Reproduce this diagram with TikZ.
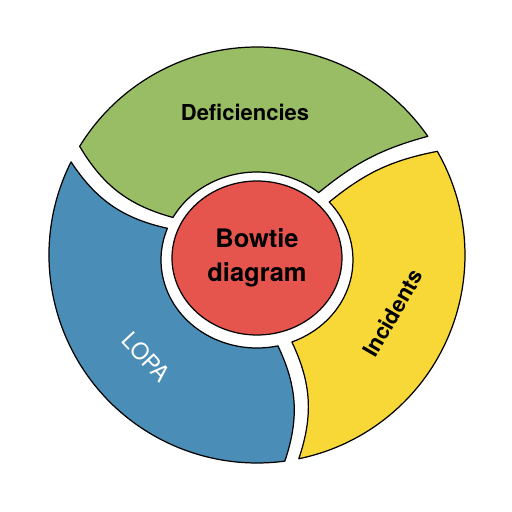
\documentclass[tikz,border=0pt]{standalone}
\usepackage{fontspec}
\setmainfont{TeX Gyre Heros}
\usetikzlibrary{calc,shapes.geometric}
\definecolor{segGreen}{HTML}{98BD64}
\definecolor{segYellow}{HTML}{F8D836}
\definecolor{segBlue}{HTML}{4A8DB7}
\definecolor{coreRed}{HTML}{E5554D}
\begin{document}
\begin{tikzpicture}[x=0.02cm,y=0.02cm,
  seg/.style={draw=black, line width=0.7pt, line join=round},
  lbl/.style={inner sep=0pt, font=\fontsize{12.5}{15}\selectfont\bfseries},
  core/.style={ellipse, draw=black, line width=0.7pt, fill=coreRed, minimum width=3.4cm, minimum height=3.08cm, inner sep=0pt, align=center, font=\fontsize{14.5}{19.5}\selectfont\bfseries}]
\useasboundingbox (0,0) rectangle (512,512);
\fill[white] (0,0) rectangle (512,512);
\coordinate (O) at (257,257);
\coordinate (R) at (257,252);
% green
\coordinate (gOR) at ($(O)+(34.8:208)$);
\coordinate (gOL) at ($(O)+(148.5:208)$);
\coordinate (gIL) at ($(R)+({96*cos(151.1)},{88*sin(151.1)})$);
\coordinate (gIR) at ($(R)+({96*cos(50)},{88*sin(50)})$);
% yellow
\coordinate (yOB) at ($(O)+(-78.4:208)$);
\coordinate (yOT) at ($(O)+(29.9:208)$);
\coordinate (yIT) at ($(R)+({96*cos(41.2)},{88*sin(41.2)})$);
\coordinate (yIB) at ($(R)+({96*cos(-68.7)},{88*sin(-68.7)})$);
% blue
\coordinate (bOT) at ($(O)+(153.4:208)$);
\coordinate (bOB) at ($(O)+(277.7:208)$);
\coordinate (bIB) at ($(R)+({96*cos(282.6)},{88*sin(282.6)})$);
\coordinate (bIT) at ($(R)+({96*cos(158.9)},{88*sin(158.9)})$);
\path[seg, fill=segGreen] (gOR) arc[start angle=34.8, end angle=148.5, radius=208]
  to[bend right=22] (gIL) arc[start angle=151.1, end angle=50, x radius=96, y radius=88]
  to[bend left=12] (gOR) -- cycle;
\path[seg, fill=segYellow] (yOB) arc[start angle=-78.4, end angle=29.9, radius=208]
  to[bend right=14] (yIT) arc[start angle=41.2, end angle=-68.7, x radius=96, y radius=88]
  to[bend left=22] (yOB) -- cycle;
\path[seg, fill=segBlue] (bOT) arc[start angle=153.4, end angle=277.7, radius=208]
  to[bend right=22] (bIB) arc[start angle=282.6, end angle=158.9, x radius=96, y radius=88]
  to[bend left=22] (bOT) -- cycle;
\node[core] (bowtie) at (257,254) {Bowtie\\diagram};
\node[lbl] (def) at (245,400) {Deficiencies};
\node[lbl, rotate=60] (inc) at (393,199) {Incidents};
\node[lbl, rotate=-47, text=white, font=\fontsize{13}{15}\selectfont] (lopa) at (146,155) {LOPA};
\end{tikzpicture}
\end{document}
